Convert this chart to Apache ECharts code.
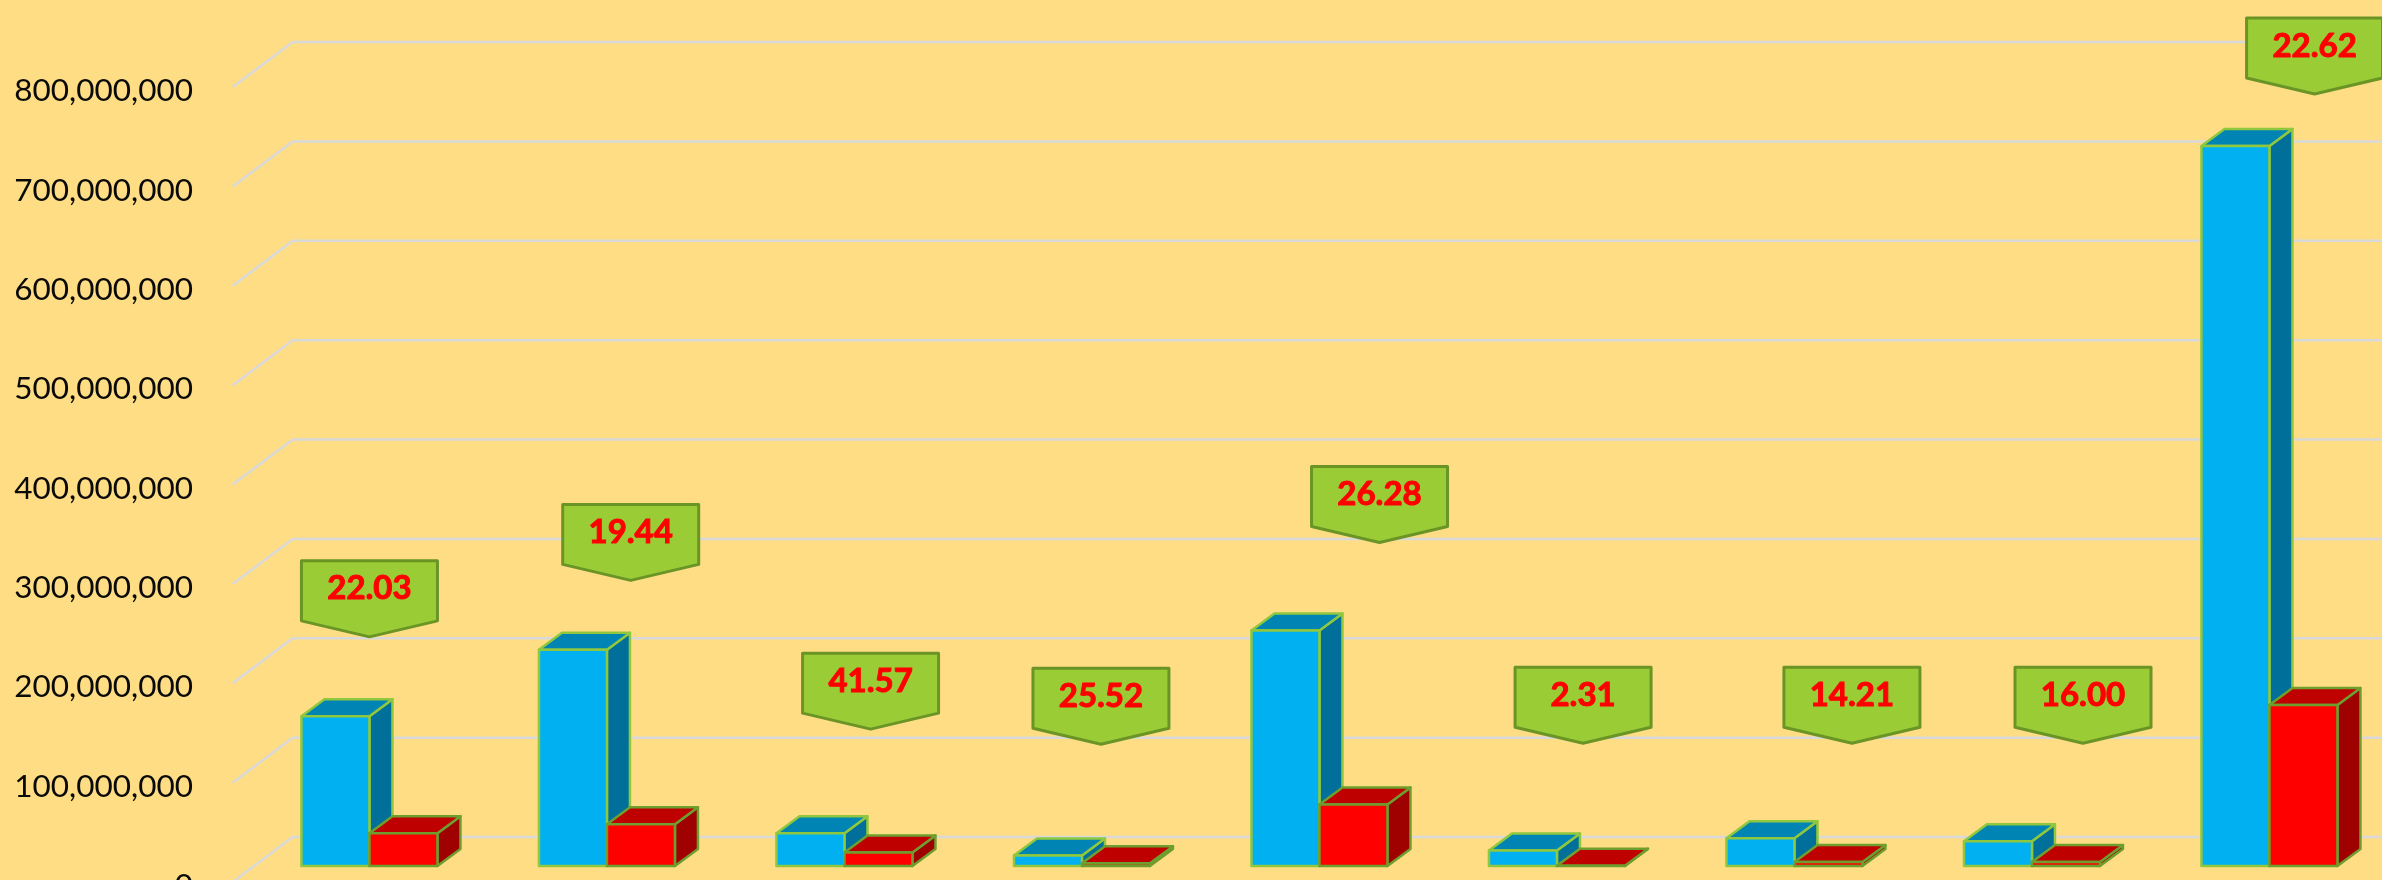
<!DOCTYPE html>
<html>
<head>
<meta charset="utf-8">
<style>html,body{margin:0;padding:0;background:#FFDD85}#c{width:2382px;height:880px}</style>
<script src="https://cdn.jsdelivr.net/npm/echarts@6/dist/echarts.min.js"></script>
</head>
<body>
<div id="c"></div>
<script>
// Data
const categories = ['1','2','3','4','5','6','7','8','9'];
const blueValues = [150600000, 217600000, 33000000, 10600000, 237000000, 15600000, 28000000, 25000000, 724600000];
const redValues  = [33000000, 42000000, 13700000, 2700000, 62000000, 360000, 4000000, 4000000, 162000000];
const ratioLabels = ['22.03','19.44','41.57','25.52','26.28','2.31','14.21','16.00','22.62'];
const tickValues = [0,100000000,200000000,300000000,400000000,500000000,600000000,700000000,800000000];
// Where each call-out's tip points: axis value, and shift in category widths
const calloutTipValues = [246700000,303500000,153800000,138700000,341700000,139700000,139700000,139700000,793000000];
const calloutShift = [0,0.1,0.11,0.08,0.253,0.11,0.242,0.215,0.19];

const FLOOR_DX = 60, FLOOR_DY = 45;      // full floor depth
const BAR_DX = 23, BAR_DY = 17;          // bar depth
const FRONT_DX = 18, FRONT_DY = 16;      // bar front plane, off the floor front edge
const BAR_W = 68;

function boxItem(side, faces, stroke) {
  return function (params, api) {
    const c = api.coord([api.value(0), api.value(1)]);
    const b = api.coord([api.value(0), 0]);
    const xc = c[0] + FRONT_DX;
    const x0 = side < 0 ? xc - BAR_W : xc;
    const x1 = x0 + BAR_W;
    const yb = b[1] - FRONT_DY;
    const yt = c[1] - FRONT_DY;
    const ls = {stroke: stroke, lineWidth: 2.5, lineJoin: 'round'};
    const poly = (pts, fill) => ({type:'polygon', shape:{points:pts}, style:Object.assign({fill:fill}, ls)});
    return {type:'group', children:[
      poly([[x1,yt],[x1+BAR_DX,yt-BAR_DY],[x1+BAR_DX,yb-BAR_DY],[x1,yb]], faces.side),
      poly([[x0,yt],[x0+BAR_DX,yt-BAR_DY],[x1+BAR_DX,yt-BAR_DY],[x1,yt]], faces.top),
      poly([[x0,yt],[x1,yt],[x1,yb],[x0,yb]], faces.front)
    ]};
  };
}

const gridSeries = {
  type:'custom', z:1, silent:true, clip:false,
  data: tickValues.map(v => [0, v]),
  encode:{x:0,y:1},
  renderItem(params, api){
    const p = api.coord([0, api.value(1)]);
    const x = params.coordSys.x, r = x + params.coordSys.width + FLOOR_DX;
    return {type:'polyline', shape:{points:[[x,p[1]],[x+FLOOR_DX,p[1]-FLOOR_DY],[r,p[1]-FLOOR_DY]]},
      style:{fill:null, stroke:'#D9D9D9', lineWidth:2.5}};
  }
};

const blueSeries = {
  type:'custom', z:2, silent:true, clip:false,
  data: blueValues.map((v,i)=>[i,v]), encode:{x:0,y:1},
  renderItem: boxItem(-1,{front:'#00B0F0',top:'#0084B4',side:'#006F9A'},'#8FC73E')
};
const redSeries = {
  type:'custom', z:3, silent:true, clip:false,
  data: redValues.map((v,i)=>[i,v]), encode:{x:0,y:1},
  renderItem: boxItem(1,{front:'#FF0000',top:'#BF0000',side:'#9F0000'},'#6E9E2E')
};
const calloutSeries = {
  type:'custom', z:4, silent:true, clip:false,
  data: calloutTipValues.map((v,i)=>[i,v,calloutShift[i]]), encode:{x:0,y:1},
  renderItem(params, api){
    const i = api.value(0);
    const tip = api.coord([i, api.value(1)]);
    const band = api.size([1,0])[0];
    const x = tip[0] + FRONT_DX + api.value(2)*band, y = tip[1];
    const hw = 68;
    return {type:'group', children:[
      {type:'polygon', shape:{points:[[x-hw,y-76],[x+hw,y-76],[x+hw,y-16],[x,y],[x-hw,y-16]]},
        style:{fill:'#9ACD35', stroke:'#6B9427', lineWidth:3, lineJoin:'round'}},
      {type:'text', style:{text:ratioLabels[i], x:x, y:y-48, align:'center', verticalAlign:'middle',
        fill:'#FF0000', stroke:'#FF0000', lineWidth:1, font:'bold 33px Lato, sans-serif'}}
    ]};
  }
};

const chart = echarts.init(document.getElementById('c'), null, {renderer:'canvas'});
chart.setOption({
  animation:false,
  backgroundColor:'#FFDD85',
  grid:{left:232.7, right:11.8, top:87, bottom:-2, containLabel:false, outerBoundsMode:'none'},
  xAxis:{type:'category', data:categories, show:false},
  yAxis:{type:'value', min:0, max:800000000, interval:100000000,
    axisLine:{show:false}, axisTick:{show:false}, splitLine:{show:false},
    axisLabel:{margin:39.7, color:'#0A0A0A', fontFamily:'Lato, sans-serif', fontSize:31.5,
      verticalAlign:'top', lineHeight:8,
      showMinLabel:true, showMaxLabel:true,
      formatter:v=>v.toLocaleString('en-US')}},
  series:[gridSeries, blueSeries, redSeries, calloutSeries]
});
</script>
</body>
</html>
